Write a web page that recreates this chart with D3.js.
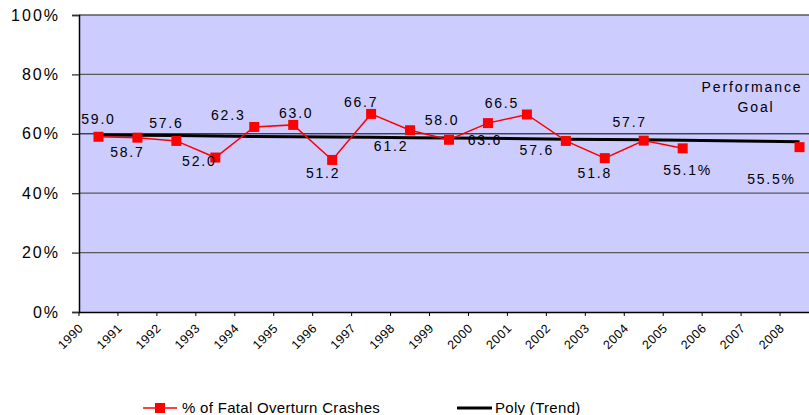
<!DOCTYPE html>
<html>
<head>
<meta charset="utf-8">
<script src="https://cdn.jsdelivr.net/npm/d3@7/dist/d3.min.js"></script>
<style>
  body { margin: 0; background: #fff; }
  svg { display: block; overflow: hidden; }
  text { font-family: "Liberation Sans", Arial, sans-serif; fill: #000; }
</style>
</head>
<body>
<svg width="809" height="415"></svg>
<script>
var years = [1990, 1991, 1992, 1993, 1994, 1995, 1996, 1997, 1998, 1999,
             2000, 2001, 2002, 2003, 2004, 2005, 2006, 2007, 2008];
// % of fatal overturn crashes (2006, 2007 missing; 2008 = goal)
var overturn = [59.0, 58.7, 57.6, 52.0, 62.3, 63.0, 51.2, 66.7, 61.2, 58.0,
                63.6, 66.5, 57.6, 51.8, 57.7, 55.1, null, null, 55.5];
var trend = [59.6, 59.5, 59.4, 59.3, 59.1, 59.0, 58.9, 58.8, 58.7, 58.6,
             58.5, 58.3, 58.2, 58.1, 58.0, 57.8, 57.7, 57.5, 57.3];
var yTicks = [0, 20, 40, 60, 80, 100];
var pctLabelYears = [2005, 2008];

// label placement relative to each marker
var labelDx = [0, -10, -10, -16, -26, 3, -9, -10, -19, -7, -3, -25, -29, -10, -14, 5, 0, 0, -28];
var labelDy = [-18, 14, -18, 3, -12, -12, 13, -12, 16, -20, 17, -12, 9, 15, -19, 22, 0, 0, 32];

var svg = d3.select("svg"),
    plotLeft = 79, plotRight = 819, plotTop = 15, plotBottom = 312;

var x = d3.scaleBand().domain(years).range([plotLeft, plotRight]).padding(0);
var y = d3.scaleLinear().domain([0, 100]).range([plotBottom, plotTop]);
var cx = function(yr) { return x(yr) + x.bandwidth() / 2; };

svg.append("rect")
    .attr("x", plotLeft).attr("y", plotTop)
    .attr("width", plotRight - plotLeft).attr("height", plotBottom - plotTop)
    .attr("fill", "#ccccff");

// gridlines
svg.append("g").selectAll("line")
    .data(yTicks.filter(function(d) { return d > 0; }))
    .enter().append("line")
    .attr("x1", plotLeft).attr("x2", plotRight)
    .attr("y1", function(d) { return y(d); })
    .attr("y2", function(d) { return y(d); })
    .attr("stroke", function(d) { return d == 60 ? "#000" : "#5a5a5a"; })
    .attr("stroke-width", function(d) { return d == 60 ? 1 : 1.3; });

// y axis
var yAxis = svg.append("g")
    .attr("transform", "translate(" + plotLeft + ",0)")
    .call(d3.axisLeft(y).tickValues(yTicks).tickSize(7).tickPadding(12)
        .tickFormat(function(d) { return d + "%"; }));
yAxis.select(".domain").attr("stroke", "#000").attr("stroke-width", 1.5);
yAxis.selectAll(".tick line").attr("stroke", "#333").attr("stroke-width", 1.3);
yAxis.selectAll(".tick text")
    .attr("font-size", 16).attr("letter-spacing", 2)
    .attr("font-family", "Liberation Sans, Arial, sans-serif")
    .attr("fill", "#000");

// x axis, ticks on category boundaries
var xAxis = svg.append("g")
    .attr("transform", "translate(0," + plotBottom + ")")
    .call(d3.axisBottom(x).tickSize(4).tickSizeOuter(0));
xAxis.select(".domain").attr("stroke", "#000").attr("stroke-width", 1.5);
xAxis.selectAll(".tick").attr("transform", function(d) { return "translate(" + x(d) + ",0)"; });
xAxis.selectAll(".tick line").attr("stroke", "#000");
xAxis.selectAll(".tick text")
    .attr("font-size", 12.5).attr("letter-spacing", 0.5)
    .attr("font-family", "Liberation Sans, Arial, sans-serif")
    .attr("fill", "#000")
    .attr("text-anchor", "end")
    .attr("y", 0).attr("dy", 0)
    .attr("transform", "translate(5,17) rotate(-45)");

// trend
svg.append("path")
    .datum(trend)
    .attr("fill", "none")
    .attr("stroke", "#000")
    .attr("stroke-width", 3)
    .attr("d", d3.line()
        .x(function(d, i) { return cx(years[i]); })
        .y(function(d) { return y(d); }));

// series line
svg.append("path")
    .datum(overturn)
    .attr("fill", "none")
    .attr("stroke", "#ff0000")
    .attr("stroke-width", 1.5)
    .attr("d", d3.line()
        .defined(function(d) { return d != null; })
        .x(function(d, i) { return cx(years[i]); })
        .y(function(d) { return y(d); }));

var pts = overturn.map(function(v, i) { return { year: years[i], v: v, i: i }; })
    .filter(function(d) { return d.v != null; });

svg.append("g").selectAll("rect")
    .data(pts).enter().append("rect")
    .attr("x", function(d) { return cx(d.year) - 5; })
    .attr("y", function(d) { return y(d.v) - 5; })
    .attr("width", 10).attr("height", 10)
    .attr("fill", "#ff0000");

var fmt = d3.format(".1f");
svg.append("g").selectAll("text")
    .data(pts).enter().append("text")
    .attr("x", function(d) { return cx(d.year) + labelDx[d.i]; })
    .attr("y", function(d) { return y(d.v) + labelDy[d.i]; })
    .attr("dy", "0.36em")
    .attr("text-anchor", "middle")
    .attr("font-size", 14)
    .attr("letter-spacing", 1.8)
    .text(function(d) { return fmt(d.v) + (pctLabelYears.indexOf(d.year) >= 0 ? "%" : ""); });

// goal note
svg.append("text")
    .attr("x", 752).attr("y", 87).attr("dy", "0.36em")
    .attr("text-anchor", "middle").attr("font-size", 14).attr("letter-spacing", 1.9)
    .text("Performance");
svg.append("text")
    .attr("x", 756).attr("y", 107).attr("dy", "0.36em")
    .attr("text-anchor", "middle").attr("font-size", 14).attr("letter-spacing", 1.9)
    .text("Goal");

// legend
var lg = svg.append("g");
lg.append("line").attr("x1", 143).attr("x2", 177).attr("y1", 408).attr("y2", 408)
    .attr("stroke", "#ff0000").attr("stroke-width", 1.5);
lg.append("rect").attr("x", 155).attr("y", 403).attr("width", 10).attr("height", 10)
    .attr("fill", "#ff0000");
lg.append("text").attr("x", 182).attr("y", 408).attr("dy", "0.36em")
    .attr("font-size", 15).attr("letter-spacing", 0.3)
    .text("% of Fatal Overturn Crashes");
lg.append("line").attr("x1", 457).attr("x2", 492).attr("y1", 408).attr("y2", 408)
    .attr("stroke", "#000").attr("stroke-width", 3);
lg.append("text").attr("x", 495).attr("y", 408).attr("dy", "0.36em")
    .attr("font-size", 15).attr("letter-spacing", 0.3)
    .text("Poly (Trend)");
</script>
</body>
</html>
